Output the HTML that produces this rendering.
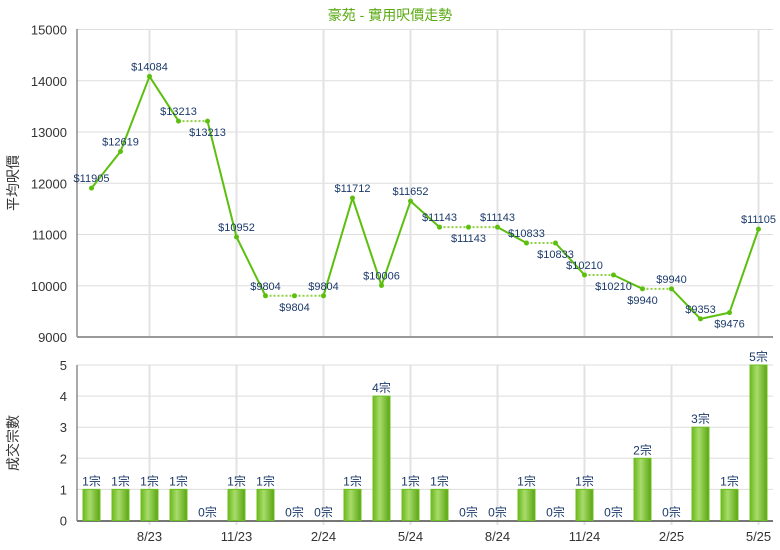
<!DOCTYPE html>
<html><head><meta charset="utf-8"><style>
body{margin:0;background:#fff}
svg{display:block;font-family:"Liberation Sans","Noto Sans CJK TC",sans-serif}
</style></head><body>
<svg id="c" width="780" height="550">
<defs><linearGradient id="bg" x1="0" x2="1"><stop offset="0" stop-color="#6cb81c"/><stop offset="0.4" stop-color="#a8dc6c"/><stop offset="1" stop-color="#5aa512"/></linearGradient></defs>
</svg>
<script>
const labels=["6/23","7/23","8/23","9/23","10/23","11/23","12/23","1/24","2/24","3/24","4/24","5/24","6/24","7/24","8/24","9/24","10/24","11/24","12/24","1/25","2/25","3/25","4/25","5/25"];
const prices=[11905,12619,14084,13213,13213,10952,9804,9804,9804,11712,10006,11652,11143,11143,11143,10833,10833,10210,10210,9940,9940,9353,9476,11105];
const counts=[1,1,1,1,0,1,1,0,0,1,4,1,1,0,0,1,0,1,0,2,0,3,1,5];
const labelBelow=[0,0,0,0,1,0,0,1,0,0,0,0,0,1,0,0,1,0,1,1,0,0,1,0];
const priceTicks=[9000,10000,11000,12000,13000,14000,15000];
const countTicks=[0,1,2,3,4,5];
const xTicks=["8/23","11/23","2/24","5/24","8/24","11/24","2/25","5/25"];
const svg=document.getElementById('c');const NS="http://www.w3.org/2000/svg";
function mk(t,a,p){const e=document.createElementNS(NS,t);for(const k in a)e.setAttribute(k,a[k]);(p||svg).appendChild(e);return e;}
const L=77,R=773;
const x=i=>91.5+i*29;
const yP=v=>337-(v-9000)/6000*307.5;
const yC=v=>520.5-v/5*155.5;
let t=mk('text',{x:390,y:20,'text-anchor':'middle','font-size':14,fill:'#5aaa10'});t.textContent="豪苑 - 實用呎價走勢";


// grids
priceTicks.forEach(v=>{const g=mk('line',{x1:L,x2:R,y1:yP(v),y2:yP(v),stroke:'#ddd'});


const tx=mk('text',{x:L-10,y:yP(v)+5,'text-anchor':'end','font-size':13,fill:'#333'});tx.textContent=v;

});
countTicks.forEach(v=>{const g=mk('line',{x1:L,x2:R,y1:yC(v),y2:yC(v),stroke:'#ddd'});


const tx=mk('text',{x:L-10,y:yC(v)+5,'text-anchor':'end','font-size':13,fill:'#333'});tx.textContent=v;

});
xTicks.forEach(lb=>{const i=labels.indexOf(lb);const xx=x(i);
mk('line',{x1:xx,x2:xx,y1:29,y2:337,stroke:'#e2e2e2','stroke-width':2});
mk('line',{x1:xx,x2:xx,y1:365,y2:525,stroke:'#e2e2e2','stroke-width':2});
const tx=mk('text',{x:xx,y:541,'text-anchor':'middle','font-size':13,fill:'#333'});tx.textContent=lb;

});
mk('line',{x1:L,x2:L,y1:29,y2:337,stroke:'#555'});
mk('line',{x1:L,x2:R,y1:337,y2:337,stroke:'#999','stroke-width':2});
mk('line',{x1:L,x2:L,y1:365,y2:521,stroke:'#555'});
mk('line',{x1:L,x2:R,y1:521,y2:521,stroke:'#777','stroke-width':2});
let a=mk('text',{transform:'translate(18,183) rotate(-90)','text-anchor':'middle','font-size':14,fill:'#333'});a.textContent="平均呎價";


a=mk('text',{transform:'translate(18,443) rotate(-90)','text-anchor':'middle','font-size':14,fill:'#333'});a.textContent="成交宗數";


// line
for(let i=1;i<prices.length;i++){const same=prices[i]===prices[i-1];
const s=mk('line',{x1:x(i-1),y1:yP(prices[i-1]),x2:x(i),y2:yP(prices[i]),stroke:same?'#8fd040':'#5cbf0e','stroke-width':2,'stroke-dasharray':same?'2,2':'none'});

}
prices.forEach((v,i)=>{const c=mk('circle',{cx:x(i),cy:yP(v),r:2.5,fill:'#5cbf0e'});


const tx=mk('text',{x:x(i),y:yP(v)+(labelBelow[i]?15:-6),'text-anchor':'middle','font-size':11,fill:'#1b3a6a'});tx.textContent='$'+v;

});
counts.forEach((v,i)=>{if(v>0){const b=mk('rect',{x:x(i)-8.5,y:yC(v),width:17,height:yC(0)-yC(v),fill:'url(#bg)',stroke:'#6cc020','stroke-width':1});

}
const tx=mk('text',{x:x(i),y:yC(v)-4,'text-anchor':'middle','font-size':12,fill:'#1b3a6a'});tx.textContent=v+'宗';

});
</script>
</body></html>
